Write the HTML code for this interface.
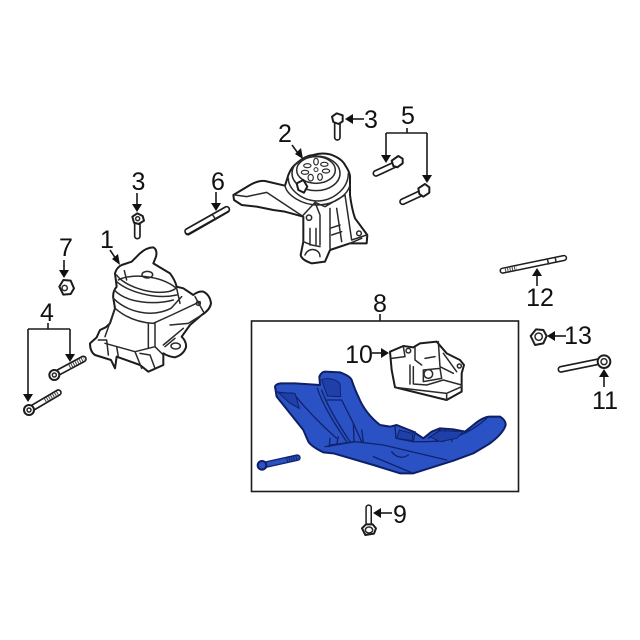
<!DOCTYPE html>
<html><head><meta charset="utf-8"><style>
html,body{margin:0;padding:0;background:#fff}
svg{display:block;filter:blur(.35px)}
text{font-family:"Liberation Sans",sans-serif;font-size:25px;fill:#111}
.p{fill:#fff;stroke:#1c1c1c;stroke-width:6;stroke-linejoin:round;stroke-linecap:round}
.l{fill:none;stroke:#2a2a2a;stroke-width:4.500;stroke-linejoin:round;stroke-linecap:round}
.b{fill:#2b52c4;stroke:#0e1f66;stroke-width:6;stroke-linejoin:round;stroke-linecap:round}
.d{fill:none;stroke:#10236e;stroke-width:4;stroke-linejoin:round;stroke-linecap:round}
.s{fill:#1f40a8;stroke:#10236e;stroke-width:3}
.so{fill:none;stroke:#1c1c1c;stroke-width:21;stroke-linecap:round}
.si{fill:none;stroke:#fff;stroke-width:11;stroke-linecap:round}
.th{fill:none;stroke:#444;stroke-width:13;stroke-dasharray:3 4}
.a{fill:#111}
</style></head><body>
<svg width="640" height="640" viewBox="0 0 640 640" xmlns="http://www.w3.org/2000/svg">
<rect width="640" height="640" fill="#fff"/>

<!-- mount 1 -->
<g transform="translate(85,240) scale(.33333)">
<path class="p" d="M15 310L35 292L45 270L62 262L75 250L90 205L85 175Q82 155 95 140L90 100Q95 82 110 75L140 65L165 40Q185 22 205 22Q218 30 213 50L205 70L255 100Q270 120 275 140L295 145L325 165Q340 152 355 155Q375 165 378 190Q375 210 350 225L315 255L290 290Q305 305 303 322Q295 345 270 352Q250 350 235 340L235 375L190 395L165 375L95 350L90 385L78 360L30 345Q15 335 15 310Z"/>
<path class="l" d="M95 105C115 135 190 165 250 155Q270 150 275 142M118 92L125 120M95 125C130 155 210 180 275 165M88 150C125 190 210 195 265 180M85 175C125 215 200 235 258 205L290 170M90 205C125 235 165 248 205 250M190 250L190 325M210 250L210 320M205 250L260 225L345 185M255 255L310 250L350 225M235 315L295 265M240 320L270 295M40 300L65 300L70 345M60 310L150 335M95 320L100 350M150 335L170 385M150 335L210 320L235 345M165 340L195 345L210 385M90 205L60 290M275 145L285 190M330 170L355 215"/>
<ellipse class="l" cx="187" cy="104" rx="16" ry="10"/>
<path class="l" d="M100 120C135 100 225 105 272 143"/>
<circle class="l" cx="340" cy="190" r="6"/>
<ellipse class="l" cx="272" cy="318" rx="14" ry="9"/>
</g>

<!-- bolts/left set -->
<g transform="translate(0,160) scale(.33333)">
<path class="so" d="M170 640L250 597"/><path class="si" d="M170 640L250 597"/><path class="th" d="M208 620L252 596"/>
<circle class="p" cx="163" cy="645" r="15"/><circle class="l" cx="163" cy="645" r="6"/>
<path class="so" d="M95 745L175 698"/><path class="si" d="M95 745L175 698"/><path class="th" d="M135 722L177 697"/>
<circle class="p" cx="87" cy="750" r="15"/><circle class="l" cx="87" cy="750" r="6"/>
<!-- nut 7 -->
<path class="p" d="M178 380L190 360L212 362L222 385L212 402L190 404Z"/>
<circle class="l" cx="194" cy="384" r="8"/>
<!-- bolt 3 -->
<path class="so" d="M412 190L412 228"/><path class="si" d="M412 190L412 228"/>
<path class="p" d="M397 170L412 160L428 168L432 182L416 192L402 188Z"/>
<circle class="l" cx="413" cy="176" r="6"/>
<!-- stud 6 -->
<path class="so" d="M564 216L680 149"/><path class="si" d="M564 216L680 149"/>
<path class="l" d="M636 166L645 179"/>
</g>

<!-- mount 2 -->
<g transform="translate(230,145) scale(.33333)">
<path class="p" d="M10 150L60 120Q85 106 105 108L165 122L175 90Q185 65 200 55Q225 32 250 30Q275 22 300 28Q335 40 345 60Q362 85 360 100L360 150Q365 190 375 220L412 270L410 295L360 295L300 315L285 350L245 355Q215 345 212 330L220 290L220 215L165 200L130 195L80 185L35 180L12 165Z"/>
<path class="l" d="M15 150L50 155L110 142L220 215M175 100C175 130 210 165 260 168C310 168 355 130 355 85M165 122C170 150 215 180 265 180C320 178 355 145 360 120M220 210L255 172L285 185L345 150M255 172L270 210L270 300M300 190L300 310M320 190L335 290M345 150L365 285L410 270M240 250L240 300M258 250L258 300M300 250L330 240M305 270L335 260M220 290L245 300L270 305M395 280L360 295M225 330C235 305 270 310 270 335"/>
<ellipse class="l" cx="258" cy="85" rx="72" ry="52"/>
<ellipse class="l" cx="258" cy="75" rx="58" ry="40"/>
<circle class="l" cx="387" cy="265" r="7"/>
<circle class="l" cx="237" cy="218" r="8"/>
<g fill="none" stroke="#2a2a2a" stroke-width="3.500">
<ellipse cx="258" cy="50" rx="7" ry="10"/><ellipse cx="283" cy="58" rx="11" ry="6"/><ellipse cx="288" cy="78" rx="11" ry="6"/><ellipse cx="270" cy="96" rx="7" ry="10"/><ellipse cx="242" cy="98" rx="8" ry="10"/><ellipse cx="225" cy="82" rx="11" ry="6"/><ellipse cx="232" cy="62" rx="11" ry="6"/>
</g>
<circle cx="258" cy="74" r="6" fill="#fff" stroke="#333" stroke-width="3"/>
<path class="p" d="M200 115L220 105L232 125L222 143L205 135Z"/>
</g>

<!-- other bolts top -->
<g transform="translate(170,90) scale(.33333)">
<path class="so" d="M502 102L502 142"/><path class="si" d="M502 102L502 142"/>
<path class="p" d="M486 80L500 70L518 76L518 94L506 102L490 96Z"/>
<path class="so" d="M618 250L672 225"/><path class="si" d="M618 250L672 225"/>
<path class="p" d="M665 212L685 198L698 206L698 220L682 232L670 228Z"/>
<path class="so" d="M698 335L752 310"/><path class="si" d="M698 335L752 310"/>
<path class="p" d="M745 295L765 282L778 292L778 308L760 320L748 312Z"/>
<path class="so" d="M53 424L170 358"/><path class="si" d="M53 424L170 358"/>
<path class="l" d="M128 375L137 388"/>
</g>

<!-- frame -->
<rect x="251.500" y="321" width="267" height="170.500" fill="none" stroke="#1c1c1c" stroke-width="1.600"/>
<path d="M380 314V321" stroke="#1a1a1a" stroke-width="1.600"/>

<!-- part 8 contents -->
<g transform="translate(240,310) scale(.33333)">
<!-- 10 -->
<path class="p" d="M450 125L490 108L520 112L540 100L590 95L620 130L660 150L672 165L665 190L665 245L620 270L465 232L455 180Z"/>
<path class="l" d="M465 232L620 250L665 230M620 250L620 270M490 110L495 140L455 145M525 112L525 150L545 165M510 165L510 222M520 170L520 222L560 225L610 210L665 225M595 95L600 170L640 190M610 130L650 185M550 180L600 175L605 205L550 215ZM555 145L585 140"/>
<circle class="l" cx="505" cy="122" r="7"/><circle class="l" cx="658" cy="168" r="6"/><circle class="l" cx="565" cy="192" r="13"/>
<!-- blue -->
<path class="b" d="M105 230Q107 222 122 220L165 220L240 225L238 200Q245 185 255 185L300 187Q330 198 335 210Q345 240 355 260Q375 310 420 345L450 350L470 345L520 365L550 385L575 365L600 355L640 358L675 365L700 345Q730 320 750 320L780 320Q797 330 797 345Q790 370 750 400L700 430L640 452L520 490L480 490L400 465L280 430L250 427Q215 410 205 395L190 360L110 260Z"/>
<path class="d" d="M108 245Q130 250 160 250C200 300 250 350 290 385M232 235C250 290 290 350 320 395M245 240C262 290 300 350 330 395M262 270L305 270L340 340L365 395M270 405L345 395L430 405L620 450M255 410L345 395M270 385L268 410M295 380L290 405M340 340L342 395M365 360L370 395M465 350L468 385L520 395L525 365M520 395L560 395C630 395 690 370 740 325M565 385L600 360L590 395M615 360L610 395M640 360L635 395M455 425C470 445 490 445 505 435M400 440L520 490"/>
<path class="s" d="M245 210C260 200 295 210 300 222L302 260L262 258Z"/>
<path class="s" d="M115 248L165 250L178 295L150 280Z"/>
<path class="s" d="M478 360L518 370L518 392L470 385Z"/>
<path class="s" d="M570 380L600 362L670 365L650 385L600 395Z"/>
<!-- bolt -->
<path d="M72 465L172 443" fill="none" stroke="#10236e" stroke-width="20" stroke-linecap="round"/>
<path d="M72 465L172 443" fill="none" stroke="#2b52c4" stroke-width="12" stroke-linecap="round"/>
<path d="M140 450L175 442" fill="none" stroke="#10236e" stroke-width="12" stroke-dasharray="3 4"/>
<circle class="b" cx="66" cy="466" r="13"/>
</g>

<!-- bolt 9 -->
<g transform="translate(350,495) scale(.33333)">
<path class="so" d="M56 38L56 85" style="stroke-width:20"/><path class="si" d="M56 38L56 85"/>
<path class="p" d="M36 100L48 88L68 88L78 100L72 116L46 120Z"/>
<ellipse class="l" cx="57" cy="105" rx="11" ry="9"/>
</g>

<!-- right parts -->
<g transform="translate(490,250) scale(.33333)">
<path class="so" d="M38 62L222 24" style="stroke-width:19"/><path class="si" d="M38 62L222 24" style="stroke-width:10"/>
<path class="th" d="M45 60L80 53"/>
<path class="l" d="M172 28L176 42M196 24L198 36"/>
<path class="p" d="M122 258L138 238L160 240L170 258L160 280L135 285Z"/>
<circle class="l" cx="146" cy="260" r="11"/>
<path class="so" d="M213 358L325 335"/><path class="si" d="M213 358L325 335"/>
<circle class="p" cx="342" cy="335" r="19"/>
<circle class="l" cx="342" cy="335" r="9"/>
</g>

<!-- connectors -->
<g stroke="#1a1a1a" stroke-width="1.600" fill="none">
<path d="M137 193V207"/>
<path d="M216 192V206"/>
<path d="M64 260V273"/>
<path d="M28 329H70M48 323V329M28 329V396M70 329V355"/>
<path d="M110 250L118 262"/>
<path d="M292 145L300 156"/>
<path d="M350 119H364"/>
<path d="M386 133H427M407 128V133M386 133V157M427 133V177"/>
<path d="M372 353H383"/>
<path d="M378 513H392"/>
<path d="M537 286V272"/>
<path d="M551 336H566"/>
<path d="M604 387V373"/>
</g>
<g>
<path class="a" d="M137 212L132 204H142Z"/>
<path class="a" d="M216 211L211 203H221Z"/>
<path class="a" d="M64 278L59 270H69Z"/>
<path class="a" d="M28 402L23 394H33Z"/>
<path class="a" d="M70 362L65 354H75Z"/>
<path class="a" d="M120 265L112 259L118 254Z"/>
<path class="a" d="M303 159L295 154L301 148Z"/>
<path class="a" d="M345 119L353 114V124Z"/>
<path class="a" d="M386 163L381 155H391Z"/>
<path class="a" d="M427 183L422 175H432Z"/>
<path class="a" d="M389 353L381 348V358Z"/>
<path class="a" d="M373 513L381 508V518Z"/>
<path class="a" d="M537 268L532 276H542Z"/>
<path class="a" d="M547 336L555 331V341Z"/>
<path class="a" d="M604 369L599 377H609Z"/>
</g>

<!-- labels -->
<text x="138.500" y="190" text-anchor="middle">3</text>
<text x="218" y="190" text-anchor="middle">6</text>
<text x="66" y="256" text-anchor="middle">7</text>
<text x="107" y="248" text-anchor="middle">1</text>
<text x="47" y="321" text-anchor="middle">4</text>
<text x="285" y="142" text-anchor="middle">2</text>
<text x="371" y="128" text-anchor="middle">3</text>
<text x="408" y="124" text-anchor="middle">5</text>
<text x="380" y="312" text-anchor="middle">8</text>
<text x="359" y="363" text-anchor="middle">10</text>
<text x="400" y="523" text-anchor="middle">9</text>
<text x="540" y="306" text-anchor="middle">12</text>
<text x="578" y="344" text-anchor="middle">13</text>
<text x="605" y="409" text-anchor="middle">11</text>
</svg>
</body></html>
